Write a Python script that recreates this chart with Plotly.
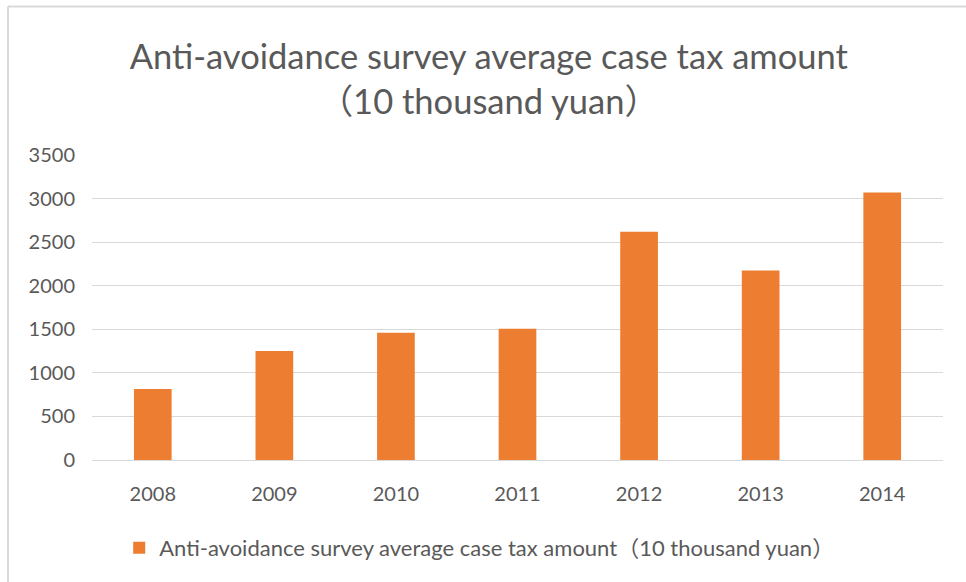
import plotly.graph_objects as go

# Average tax amount per anti-avoidance case, by year (10 thousand yuan)
years = ["2008", "2009", "2010", "2011", "2012", "2013", "2014"]
amounts = [815, 1250, 1460, 1505, 2620, 2175, 3070]
series_name = "Anti-avoidance survey average case tax amount（10 thousand yuan）"
y_ticks = [0, 500, 1000, 1500, 2000, 2500, 3000, 3500]

W, H = 966, 582
L, R, T, B = 92, 23, 155, 122
plot_w, plot_h = W - L - R, H - T - B

FONT = "Lato, 'Noto Sans CJK SC', sans-serif"
GREY_TEXT = "#595959"

fig = go.Figure()
fig.add_trace(go.Bar(
    x=years, y=amounts, name=series_name,
    marker=dict(color="#ED7D31", line=dict(width=0)),
    showlegend=True,
))

def px_x(px):
    return (px - L) / plot_w

def px_y(py):
    return (H - B - py) / plot_h

fig.update_layout(
    width=W, height=H,
    margin=dict(l=L, r=R, t=T, b=B, autoexpand=False),
    paper_bgcolor="white", plot_bgcolor="white",
    font=dict(family=FONT, color=GREY_TEXT),
    bargap=0.69,
    title=dict(
        text="Anti-avoidance survey average case tax amount<br>（10 thousand yuan）",
        x=0.506, xanchor="center", y=1 - 69 / H, yanchor="middle",
        font=dict(size=34.5, color=GREY_TEXT, family=FONT),
    ),
    xaxis=dict(
        showgrid=False, showline=True, linecolor="#D9D9D9", linewidth=1,
        ticks="", tickfont=dict(size=20, color=GREY_TEXT), ticklabelstandoff=16,
    ),
    yaxis=dict(
        range=[0, 3500], tickvals=y_ticks, showgrid=True,
        gridcolor="#D9D9D9", gridwidth=1, zeroline=False, showline=False,
        ticks="", tickfont=dict(size=20, color=GREY_TEXT), ticklabelstandoff=16,
    ),
    legend=dict(
        orientation="h", x=0.455, xanchor="center", y=px_y(548), yanchor="middle",
        font=dict(size=22, color=GREY_TEXT), itemwidth=30,
    ),
    shapes=[
        dict(type="line", xref="paper", yref="paper",
             x0=px_x(8), x1=px_x(W + 5), y0=px_y(6.5), y1=px_y(6.5),
             line=dict(color="#D9D9D9", width=2)),
        dict(type="line", xref="paper", yref="paper",
             x0=px_x(8), x1=px_x(8), y0=px_y(6.5), y1=px_y(H + 5),
             line=dict(color="#D9D9D9", width=2)),
    ],
)

fig.write_html("out.html")
